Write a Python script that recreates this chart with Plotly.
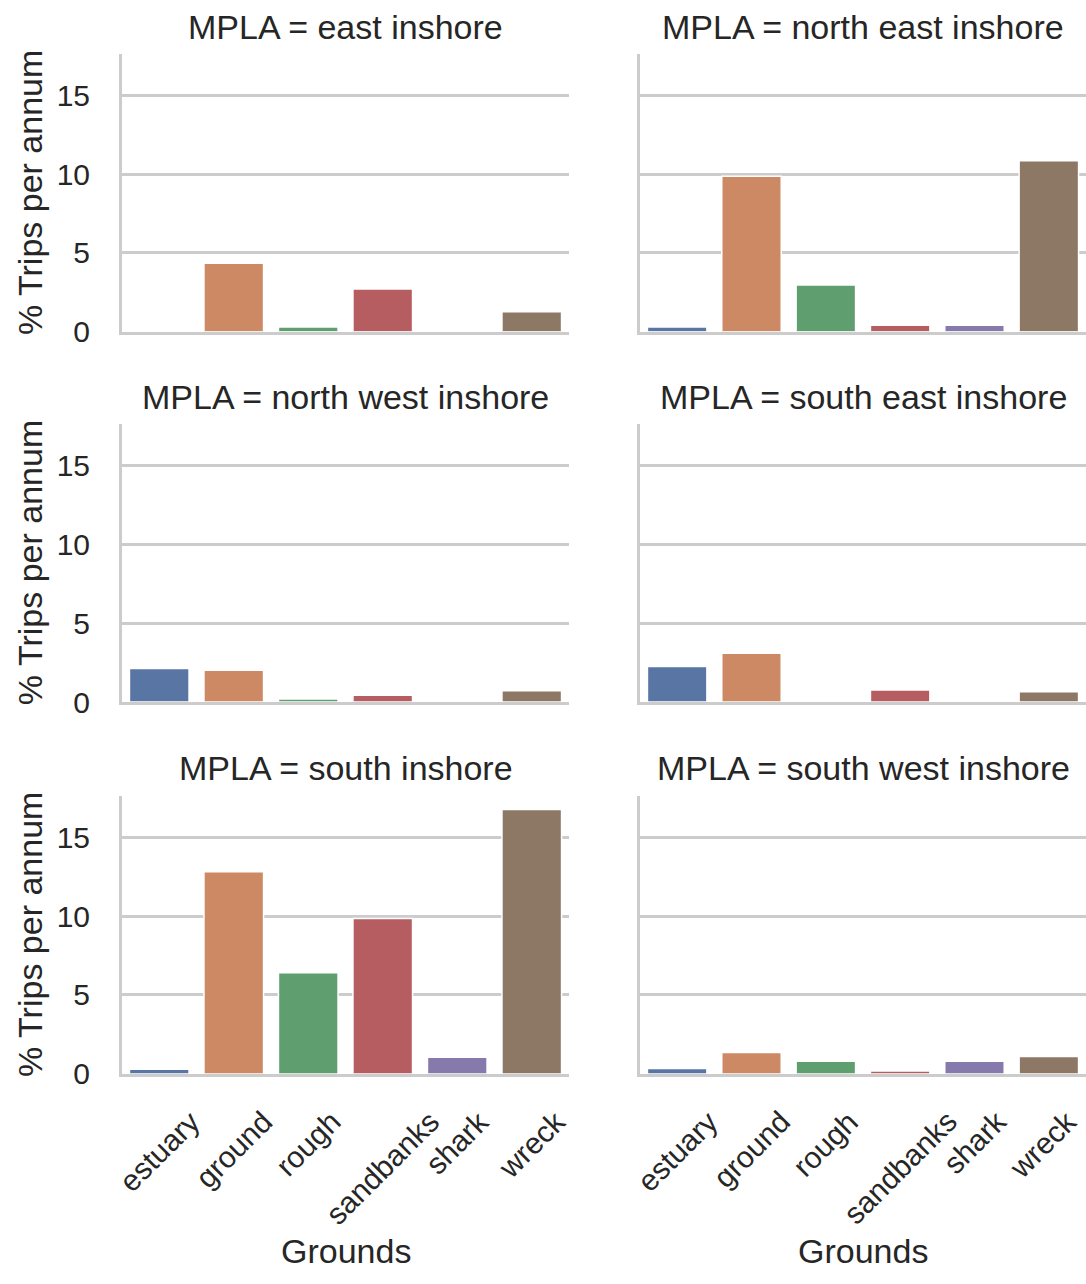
import plotly.graph_objects as go

# Fishing grounds on the x axis, one panel per MPLA region
grounds = ["estuary", "ground", "rough", "sandbanks", "shark", "wreck"]
regions = [
    "east inshore", "north east inshore",
    "north west inshore", "south east inshore",
    "south inshore", "south west inshore",
]

# % trips per annum for each ground (None = no trips recorded)
east_inshore = [None, 4.35, 0.3, 2.72, None, 1.28]
north_east_inshore = [0.3, 9.87, 2.97, 0.42, 0.42, 10.85]
north_west_inshore = [2.12, 2.02, 0.2, 0.43, None, 0.72]
south_east_inshore = [2.26, 3.1, None, 0.76, None, 0.65]
south_inshore = [0.3, 12.8, 6.4, 9.85, 1.05, 16.75]
south_west_inshore = [0.34, 1.35, 0.8, 0.18, 0.8, 1.1]

panel_values = [
    east_inshore, north_east_inshore,
    north_west_inshore, south_east_inshore,
    south_inshore, south_west_inshore,
]

y_ticks = [0, 5, 10, 15]

# seaborn "deep" palette, desaturated as barplot draws it
colors = ["#5975A4", "#CC8963", "#5F9E6E", "#B55D60", "#857AAB", "#8D7866"]

W, H = 1086, 1284
FONT = "Liberation Sans, Arial, sans-serif"
TEXT = "#262626"
GRID = "#cccccc"

# panel geometry in pixels
col_x = [(122, 569), (640, 1086)]
row_y = [(55, 336.3), (429.9, 711.5), (806.7, 1088.3)]


def px_x(x):
    return x / W


def px_y(y):
    return 1 - y / H


fig = go.Figure()
layout = dict(
    width=W, height=H,
    margin=dict(l=0, r=0, t=0, b=0),
    paper_bgcolor="white", plot_bgcolor="white",
    showlegend=False,
    bargap=0.2,
    font=dict(family=FONT, color=TEXT, size=30),
)
annotations = []

for i, (region, vals) in enumerate(zip(regions, panel_values)):
    r, c = divmod(i, 2)
    n = i + 1
    xa = "x" if n == 1 else f"x{n}"
    ya = "y" if n == 1 else f"y{n}"
    fig.add_trace(go.Bar(
        x=grounds, y=vals,
        marker=dict(color=colors, line=dict(color="white", width=1.5)),
        xaxis=xa, yaxis=ya,
        hoverinfo="x+y",
    ))
    x0, x1 = col_x[c]
    y0, y1 = row_y[r]
    layout["xaxis" if n == 1 else f"xaxis{n}"] = dict(
        domain=[px_x(x0), px_x(x1)],
        anchor=ya,
        type="category",
        categoryorder="array", categoryarray=grounds,
        range=[-0.5, 5.5],
        showticklabels=False, ticks="",
        showgrid=False, zeroline=False,
        showline=True, linecolor=GRID, linewidth=3,
    )
    layout["yaxis" if n == 1 else f"yaxis{n}"] = dict(
        domain=[px_y(y1), px_y(y0)],
        anchor=xa,
        range=[0, 17.6],
        tickvals=y_ticks,
        showticklabels=(c == 0),
        tickfont=dict(size=30, color=TEXT),
        ticks="", ticklabelstandoff=23,
        showgrid=True, gridcolor=GRID, gridwidth=2.5,
        zeroline=False,
        showline=True, linecolor=GRID, linewidth=3,
    )
    # facet title
    annotations.append(dict(
        text=f"MPLA = {region}",
        xref="paper", yref="paper",
        x=px_x((x0 + x1) / 2), y=px_y(y0 - 28),
        xanchor="center", yanchor="middle",
        showarrow=False, font=dict(size=34, color=TEXT),
    ))
    if c == 0:
        annotations.append(dict(
            text="% Trips per annum",
            xref="paper", yref="paper",
            x=px_x(30), y=px_y((y0 + y1) / 2),
            xanchor="center", yanchor="middle", textangle=-90,
            showarrow=False, font=dict(size=34, color=TEXT),
        ))
    if r == 2:
        for k, g in enumerate(grounds):
            # keep the last rotated label inside the right page edge
            shift = -6 if (c == 1 and k == len(grounds) - 1) else 0
            annotations.append(dict(
                text=g,
                xref=xa, yref="paper",
                x=g, y=px_y(y1 + 30), xshift=shift,
                xanchor="center", yanchor="top", textangle=-45,
                borderpad=0,
                showarrow=False, font=dict(size=30, color=TEXT),
            ))
        annotations.append(dict(
            text="Grounds",
            xref="paper", yref="paper",
            x=px_x((x0 + x1) / 2), y=px_y(1268),
            xanchor="center", yanchor="middle",
            showarrow=False, font=dict(size=34, color=TEXT),
        ))

layout["annotations"] = annotations
fig.update_layout(**layout)
fig.write_html("out.html")
